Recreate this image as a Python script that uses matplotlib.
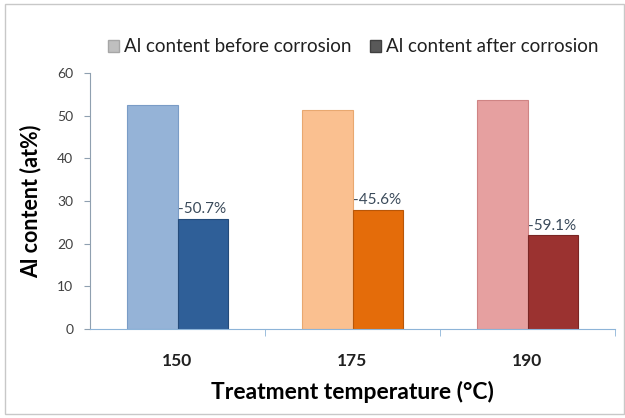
import matplotlib.pyplot as plt
from matplotlib.patches import Patch

temps = ["150", "175", "190"]
al_before = [52.6, 51.3, 53.7]
al_after = [25.9, 28.0, 22.0]
changes = ["-50.7%", "-45.6%", "-59.1%"]

before_colors = ["#95B3D7", "#FAC090", "#E6A0A0"]
after_colors = ["#2F5F98", "#E46C0A", "#9B3230"]
before_edges = ["#7A9CC6", "#E8A870", "#CF8484"]
after_edges = ["#244B7A", "#B85608", "#7A2624"]

plt.rcParams['font.family'] = ['Lato', 'DejaVu Sans']

fig = plt.figure(figsize=(6.25, 4.18), dpi=100)
ax = fig.add_axes([0.144, 0.213, 0.84, 0.612])

w = 0.286
x = list(range(len(temps)))
ax.bar([i - w for i in x], al_before, width=w, align='edge',
       color=before_colors, edgecolor=before_edges, linewidth=0.8, zorder=2)
ax.bar(x, al_after, width=w, align='edge',
       color=after_colors, edgecolor=after_edges, linewidth=0.8, zorder=2)

for i, (v, lab) in enumerate(zip(al_after, changes)):
    ax.text(i + 0.005, v + 0.5, lab, ha='left', va='bottom',
            fontsize=11, color='#3A4A5A')

ax.set_xlim(-0.5, 2.5)
ax.set_ylim(0, 60)
ax.set_yticks(range(0, 61, 10))
ax.set_xticks(x)
ax.set_xticklabels(temps, fontsize=12.5, fontweight='bold', color='#202020')
ax.set_xticks([0.5, 1.5, 2.5], minor=True)
ax.tick_params(axis='x', which='major', length=0, pad=17)
ax.tick_params(axis='x', which='minor', length=5, color='#8DB4D8', direction='out')
ax.tick_params(axis='y', length=4, color='#8FA0B0', labelsize=10,
               labelcolor='#404040', pad=8)

for s in ['top', 'right']:
    ax.spines[s].set_visible(False)
ax.spines['left'].set_color('#8FA0B0')
ax.spines['bottom'].set_color('#8DB4D8')

ax.set_ylabel("Al content (at%)", fontsize=15.5, fontweight='bold', labelpad=11)
ax.set_xlabel("Treatment temperature (°C)", fontsize=16.5, fontweight='bold', labelpad=9)

handles = [Patch(facecolor='#BFBFBF', edgecolor='#A6A6A6'),
           Patch(facecolor='#595959', edgecolor='#404040')]
fig.legend(handles, ["Al content before corrosion", "Al content after corrosion"],
           loc='center', bbox_to_anchor=(0.565, 0.888), ncol=2, frameon=False,
           fontsize=13.5, handlelength=0.6, handleheight=0.6, handletextpad=0.25,
           columnspacing=1.0, labelcolor='#202020')

fig.patches.append(plt.Rectangle((0.008, 0.01), 0.99, 0.98, transform=fig.transFigure,
                                 fill=False, edgecolor='#C8C8C8', linewidth=1))

fig.savefig("out.png", dpi=100)
